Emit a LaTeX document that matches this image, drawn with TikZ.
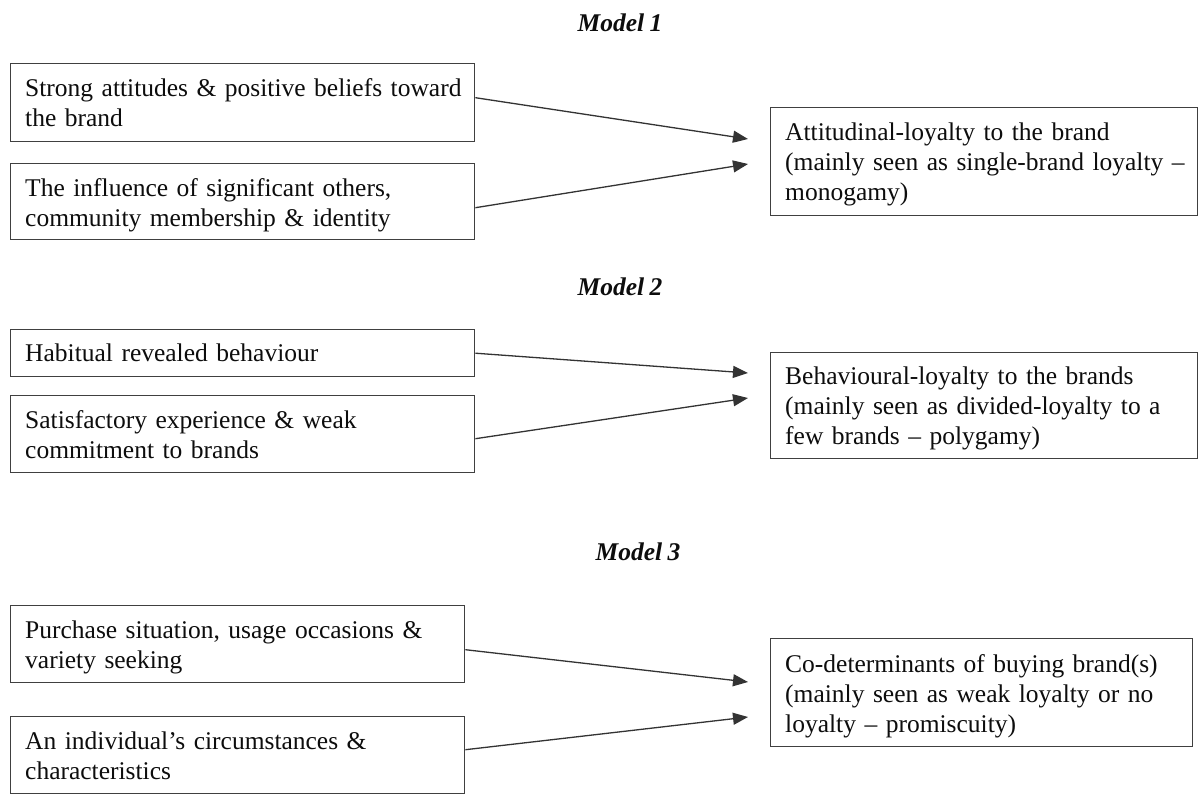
\documentclass[tikz,border=0pt]{standalone}
\usepackage{fontspec}
\setmainfont{Liberation Serif}[WordSpace=0.82]
\usetikzlibrary{arrows.meta}
\tikzset{
  boxframe/.style={draw=black!75, line width=1.4pt, rectangle, anchor=north west, inner sep=0pt},
  boxtext/.style={anchor=base west, inner sep=0pt, text width=520pt, align=left, text=black!95,
    font=\fontsize{25.5}{30}\selectfont},
  modeltitle/.style={font=\fontsize{25.5}{30}\selectfont\bfseries\itshape, text=black!95, inner sep=0pt},
  conn/.style={draw=black!80, line width=1.3pt, -{Triangle[length=15pt,width=12pt]}}
}
\begin{document}
\begin{tikzpicture}[x=1pt,y=-1pt]
\fill[white] (0,0) rectangle (1199,798);
\useasboundingbox (0,0) rectangle (1199,798);

% Model 1
\node[modeltitle] (m1) at (620,23) {Model 1};
\node[boxframe, minimum width=464pt, minimum height=78pt] (A1) at (10,63) {};
\node[boxtext] (A1t) at (25,96.5) {Strong attitudes \& positive beliefs toward\\ the brand};
\node[boxframe, minimum width=464pt, minimum height=76pt] (A2) at (10,163) {};
\node[boxtext] (A2t) at (25,196) {The influence of significant others,\\ community membership \& identity};
\node[boxframe, minimum width=427pt, minimum height=108pt] (R1) at (770,107) {};
\node[boxtext] (R1t) at (785,140) {Attitudinal-loyalty to the brand\\ (mainly seen as single-brand loyalty –\\ monogamy)};
\coordinate (t1a) at (748,139);
\coordinate (t1b) at (748,164);
\draw[conn] ([yshift=5pt]A1.east) -- (t1a);
\draw[conn] ([yshift=-6pt]A2.east) -- (t1b);

% Model 2
\node[modeltitle] (m2) at (620,287) {Model 2};
\node[boxframe, minimum width=464pt, minimum height=47pt] (B1) at (10,329) {};
\node[boxtext] (B1t) at (25,361) {Habitual revealed behaviour};
\node[boxframe, minimum width=464pt, minimum height=77pt] (B2) at (10,395) {};
\node[boxtext] (B2t) at (25,428) {Satisfactory experience \& weak\\ commitment to brands};
\node[boxframe, minimum width=427pt, minimum height=106pt] (R2) at (770,352) {};
\node[boxtext] (R2t) at (785,384) {Behavioural-loyalty to the brands\\ (mainly seen as divided-loyalty to a\\ few brands – polygamy)};
\coordinate (t2a) at (748,373);
\coordinate (t2b) at (748,398);
\draw[conn] (B1.east) -- (t2a);
\draw[conn] ([yshift=-4.5pt]B2.east) -- (t2b);

% Model 3
\node[modeltitle] (m3) at (638,552) {Model 3};
\node[boxframe, minimum width=454pt, minimum height=77pt] (C1) at (10,605) {};
\node[boxtext] (C1t) at (25,638) {Purchase situation, usage occasions \&\\ variety seeking};
\node[boxframe, minimum width=454pt, minimum height=77pt] (C2) at (10,716) {};
\node[boxtext] (C2t) at (25,749) {An individual’s circumstances \&\\ characteristics};
\node[boxframe, minimum width=422pt, minimum height=108pt] (R3) at (770,638) {};
\node[boxtext] (R3t) at (785,672) {Co-determinants of buying brand(s)\\ (mainly seen as weak loyalty or no\\ loyalty – promiscuity)};
\coordinate (t3a) at (748,682);
\coordinate (t3b) at (748,717);
\draw[conn] ([yshift=-5.5pt]C1.east) -- (t3a);
\draw[conn] ([yshift=5.5pt]C2.east) -- (t3b);
\end{tikzpicture}
\end{document}
